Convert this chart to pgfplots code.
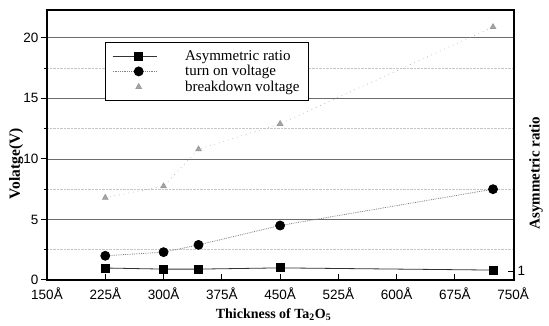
\documentclass[border=0pt]{standalone}
\usepackage{fontspec}
\setmainfont{Liberation Serif}
\newfontfamily\arialfont{Liberation Sans}
\usepackage{pgfplots}
\usepackage{pgfplotstable}
\pgfplotsset{compat=1.18}
\pgfplotsset{
  lineleg/.style={legend image code/.code={\draw[mark repeat=2,mark phase=2,##1] plot coordinates {(0pt,0pt)(26pt,0pt)(44pt,0pt)};}},
  markleg/.style={legend image code/.code={\draw[##1, only marks] plot coordinates {(26pt,0pt)};}},
}

\pgfplotstableread{
x y
225 0.99
300 0.90
345 0.90
450 1.00
724 0.82
}\ratio
\pgfplotstableread{
x y
225 2.0
300 2.3
345 2.9
450 4.5
724 7.5
}\turnon
\pgfplotstableread{
x y
225 6.8
300 7.75
345 10.8
450 12.9
724 20.9
}\breakdown

\begin{document}
\begin{tikzpicture}
\begin{axis}[
  at={(0pt,0pt)}, anchor=south west,
  scale only axis, width=467pt, height=270pt,
  xmin=150, xmax=751, ymin=0, ymax=22.3,
  axis line style={black, line width=1.1pt},
  xtick={150,225,...,750},
  xticklabel={\pgfmathprintnumber{\tick}Å},
  ytick={0,5,10,15,20},
  minor ytick={2.5,7.5,12.5,17.5},
  ymajorgrids, yminorgrids,
  major grid style={gray!85!black, line width=0.8pt},
  minor grid style={gray!45, densely dotted, line width=0.6pt},
  x tick style={black, line width=1pt},
  y tick style={black, line width=1pt},
  major tick length=6pt,
  ytick align=outside, xtick align=inside,
  minor tick length=3pt,
  xtick pos=bottom, ytick pos=left,
  /pgf/number format/assume math mode=true,
  ticklabel style={font=\arialfont\fontsize{13.5}{13.5}\selectfont},
  xticklabel style={yshift=-4pt},
  yticklabel style={xshift=1pt},
  xlabel={\textbf{Thickness of Ta\textsubscript{2}O\textsubscript{5}}},
  xlabel style={at={(axis description cs:0.485,0)}, anchor=center, yshift=-35pt, font=\fontsize{14}{14}\selectfont},
  ylabel={\textbf{Volatge(V)}},
  ylabel style={at={(axis description cs:-0.066,0.43)}, anchor=center, font=\fontsize{15.5}{15.5}\selectfont},
  legend style={at={(axis description cs:0.124,0.881)}, anchor=north west,
    draw=black, line width=0.8pt, fill=white, inner xsep=7pt, inner ysep=6pt,
    font=\fontsize{15}{15}\selectfont, row sep=-0.5pt,
    /tikz/every odd column/.append style={column sep=26pt}},
  legend cell align=left,
]
\addplot[black!80, line width=0.8pt, mark=square*, mark size=4pt,
  mark options={solid, fill=black, draw=black}, lineleg]
  table {\ratio};
\addlegendentry{Asymmetric ratio}
\addplot[gray, densely dotted, line width=0.8pt, mark=*, mark size=4.5pt,
  mark options={solid, fill=black, draw=black}, lineleg]
  table {\turnon};
\addlegendentry{turn on voltage}
\addplot[gray!60, loosely dotted, line width=0.7pt, mark=triangle*, mark size=3.2pt,
  mark options={solid, fill=gray!70, draw=gray!80}, markleg]
  table {\breakdown};
\addlegendentry{breakdown voltage}
\end{axis}
\begin{axis}[
  at={(0pt,0pt)}, anchor=south west,
  scale only axis, width=467pt, height=270pt,
  xmin=150, xmax=751, ymin=0, ymax=22.3,
  axis x line=none, axis y line*=right,
  axis line style={black, line width=1.1pt},
  ytick={0.74}, yticklabels={1},
  y tick style={black, line width=1pt},
  major tick length=6pt,
  ytick align=inside,
  /pgf/number format/assume math mode=true,
  ticklabel style={font=\arialfont\fontsize{13.5}{13.5}\selectfont},
  ylabel={\textbf{Asymmetric ratio}},
  ylabel style={at={(axis description cs:1.047,0.396)}, anchor=center, font=\fontsize{15}{15}\selectfont},
]
\addplot[draw=none] coordinates {(150,0)};
\end{axis}
\pgfresetboundingbox
\useasboundingbox (-47pt,-46pt) rectangle (502pt,280pt);
\end{tikzpicture}
\end{document}
